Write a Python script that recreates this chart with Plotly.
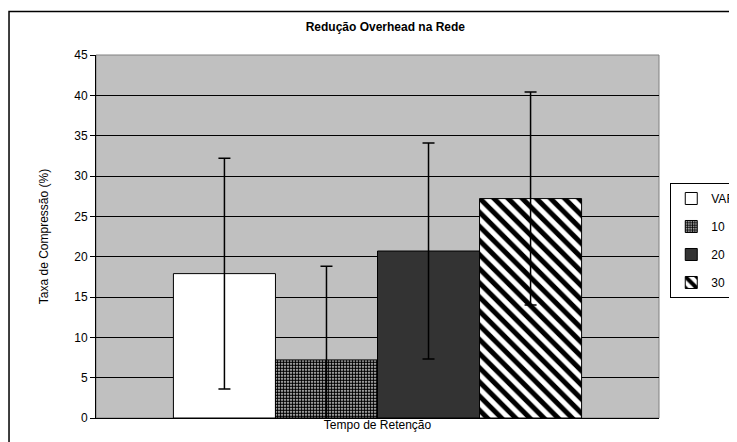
import plotly.graph_objects as go

series = ["VAR", "10", "20", "30"]
values = [17.9, 7.2, 20.7, 27.2]
errors = [14.3, 11.6, 13.4, 13.2]
colors = ["white", "white", "#333333", "white"]
patterns = ["", ".", "", "\\"]
y_ticks = [0, 5, 10, 15, 20, 25, 30, 35, 40, 45]

fig = go.Figure()
for i, name in enumerate(series):
    fig.add_trace(go.Bar(
        x=["Tempo de Retenção"], y=[values[i]], name=name,
        legendgroup=name,
        marker=dict(color=colors[i], line=dict(color="black", width=1),
                    pattern=dict(shape=patterns[i], fgcolor="black", bgcolor="white",
                                 fgopacity=1,
                                 size=10 if patterns[i] == "\\" else 3,
                                 solidity=0.5 if patterns[i] == "\\" else 0.7)),
        error_y=dict(type="data", array=[errors[i]], color="black", thickness=1.5, width=6),
    ))

# page body adds 8px offset, margins compensate
fig.update_layout(
    width=737, height=442,
    margin=dict(l=88, r=86, t=47, b=32, autoexpand=False),
    paper_bgcolor="white", plot_bgcolor="#C0C0C0",
    font=dict(family="Arial, Liberation Sans", size=12, color="black"),
    title=dict(text="<b>Redução Overhead na Rede</b>", x=0.512, xanchor="center",
               y=0.957, yanchor="middle", font=dict(size=12)),
    barmode="group", bargap=0.275, bargroupgap=0,
    showlegend=True,
    legend=dict(x=1.02, xanchor="left", y=0.489, yanchor="middle",
                bordercolor="black", borderwidth=1, bgcolor="white",
                traceorder="grouped", tracegroupgap=9,
                font=dict(size=12)),
)
fig.update_yaxes(range=[0, 45], tickvals=y_ticks, showgrid=True, gridcolor="black",
                 gridwidth=1, showline=True, linecolor="black", linewidth=1,
                 ticks="outside", ticklen=5, tickcolor="black", zeroline=False,
                 title=dict(text="Taxa de Compressão (%)", standoff=23, font=dict(size=12)))
fig.update_xaxes(showticklabels=False, showline=True, linecolor="black", linewidth=1,
                 ticks="", title=dict(text="Tempo de Retenção", standoff=2, font=dict(size=12)))

# right/top plot border
fig.add_shape(type="rect", xref="paper", yref="paper", x0=0, y0=0, x1=1, y1=1,
              line=dict(color="#808080", width=1), layer="below")
# outer chart border
fig.add_shape(type="rect", xref="paper", yref="paper", x0=-0.1545, y0=-0.1, x1=1.2, y1=1.12,
              line=dict(color="black", width=1.5))

fig.write_html("out.html")
